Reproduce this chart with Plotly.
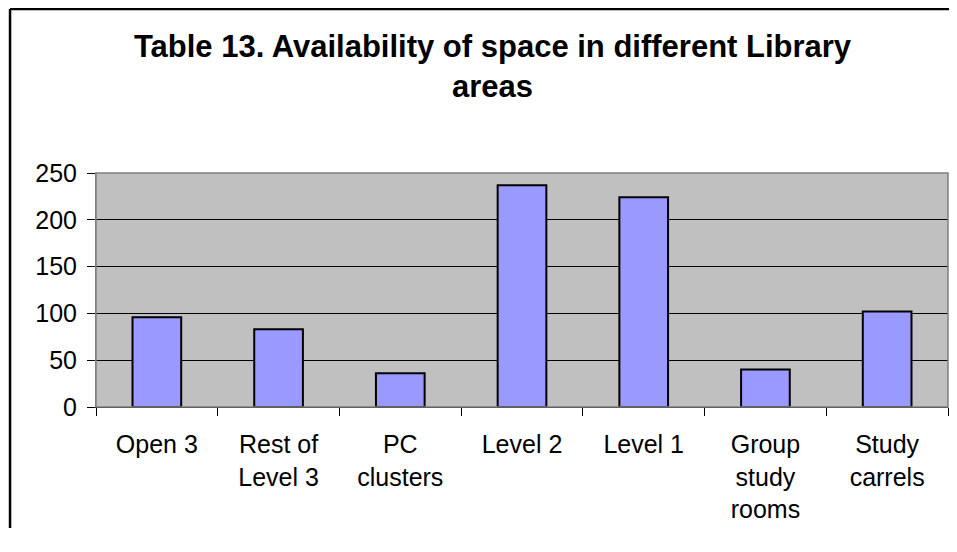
import plotly.graph_objects as go

categories = ["Open 3", "Rest of<br>Level 3", "PC<br>clusters", "Level 2",
              "Level 1", "Group<br>study<br>rooms", "Study<br>carrels"]
values = [96, 83, 36, 237, 224, 40, 102]
y_ticks = [0, 50, 100, 150, 200, 250]

FONT = "Liberation Sans, Arial, sans-serif"

fig = go.Figure(go.Bar(
    x=categories,
    y=values,
    marker=dict(color="#9999FF", line=dict(color="black", width=2)),
    showlegend=False,
))

# page has an 8px body margin; keep the figure inside the window
fig.update_layout(
    width=941,
    height=520,
    paper_bgcolor="white",
    plot_bgcolor="#C0C0C0",
    font=dict(family=FONT, color="black", size=25),
    title=dict(
        text="<b>Table 13. Availability of space in different Library<br>areas</b>",
        font=dict(family=FONT, size=31, color="black"),
        xref="paper", x=0.4654, xanchor="center",
        yref="container", y=1 - 48.6 / 520, yanchor="top",
    ),
    bargap=0.6,
    margin=dict(l=88, r=1, t=165, b=121),
    xaxis=dict(
        showline=True, linecolor="black", linewidth=1,
        ticks="outside", tickson="boundaries", ticklen=8,
        tickcolor="black", tickwidth=1,
        showgrid=False,
        ticklabelstandoff=15,
        tickfont=dict(size=25),
    ),
    yaxis=dict(
        range=[0, 250],
        tickvals=y_ticks,
        showline=True, linecolor="#808080", linewidth=1,
        ticks="outside", ticklen=8, tickcolor="black", tickwidth=1,
        showgrid=True, gridcolor="black", gridwidth=1,
        zeroline=False,
        ticklabelstandoff=5,
        tickfont=dict(size=25),
    ),
    shapes=[
        # plot area border
        dict(type="rect", xref="paper", yref="paper", x0=0, y0=0, x1=1, y1=1,
             line=dict(color="#808080", width=1.5), layer="above"),
        # outer chart frame: only top and left edges are in view
        dict(type="line", xref="paper", yref="paper",
             x0=-0.1009, y0=1.7009, x1=1.2, y1=1.7009,
             line=dict(color="black", width=2.5)),
        dict(type="line", xref="paper", yref="paper",
             x0=-0.1009, y0=-0.6, x1=-0.1009, y1=1.7009,
             line=dict(color="black", width=2.5)),
    ],
)

fig.write_html("out.html", config=dict(displayModeBar=False))
